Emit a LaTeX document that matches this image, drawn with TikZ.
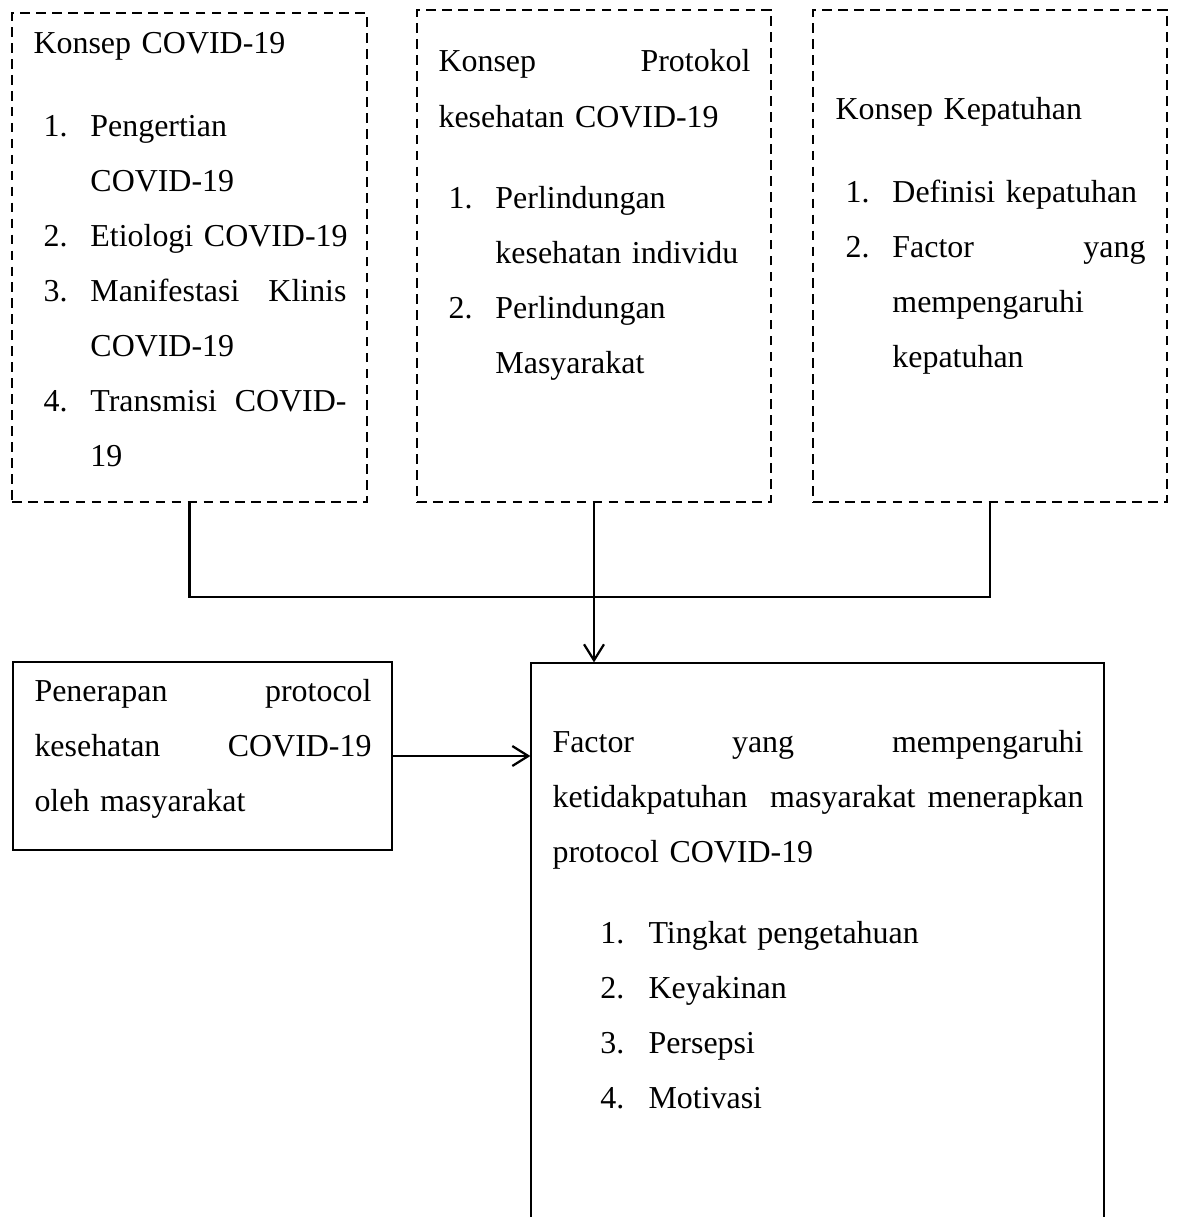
\documentclass[tikz,border=0pt]{standalone}
\usepackage{fontspec}
\setmainfont{Liberation Serif}
\usetikzlibrary{arrows.meta, fit, positioning}
\setlength{\parindent}{0pt}
% list numbers in the boxes
\newcommand{\itm}[1]{\hspace*{3.8pt}\makebox[17.6pt][l]{#1}}
\newcommand{\cnt}{\hspace*{21.4pt}}
\newcommand{\itmw}[1]{\hspace*{18pt}\makebox[18.1pt][l]{#1}}

\begin{document}
\begin{tikzpicture}[x=0.3759pt, y=-0.3759pt,
  dashbox/.style={draw, dash pattern=on 3.6pt off 2.4pt, line width=1pt, inner sep=0pt},
  solidbox/.style={draw, line width=0.45pt, inner sep=0pt},
  txt/.style={inner sep=0pt, anchor=base west, align=left, font=\fontsize{12pt}{20.7pt}\selectfont},
  conn/.style={line width=0.85pt},
  arr/.style={conn, -{Straight Barb[length=6pt,width=7.5pt]}}]
\useasboundingbox (0,0) rectangle (1176,1217);

% top row (dashed)
\node[dashbox, fit={(12,13) (367,502)}] (konsep) {};
\node[dashbox, fit={(417,10) (771,502)}] (protokol) {};
\node[dashbox, fit={(813,10) (1167,502)}] (kepatuhan) {};
% bottom row
\node[solidbox, fit={(13,662) (392,850)}] (penerapan) {};
\node[solidbox, fit={(531,663) (1104,1240)}] (faktor) {};

\node[txt, text width=313*0.3759pt] (konsepTxt) at (33,54) {Konsep COVID-19\\[10.2pt]
\itm{1.}Pengertian\\
\cnt COVID-19\\
\mbox{\itm{2.}Etiologi COVID-19}\\
\itm{3.}Manifestasi \hfill Klinis\\
\cnt COVID-19\\
\itm{4.}Transmisi \hfill COVID-\\
\cnt 19};

\node[txt, text width=312*0.3759pt] (protokolTxt) at (438,72) {Konsep \hfill Protokol\\
kesehatan COVID-19\\[9.8pt]
\itm{1.}Perlindungan\\
\cnt kesehatan individu\\
\itm{2.}Perlindungan\\
\cnt Masyarakat};

\node[txt, text width=310*0.3759pt] (kepatuhanTxt) at (835,120) {Konsep Kepatuhan\\[10.2pt]
\itm{1.}Definisi kepatuhan\\
\itm{2.}Factor \hfill yang\\
\cnt mempengaruhi\\
\cnt kepatuhan};

\node[txt, text width=337*0.3759pt] (penerapanTxt) at (34,701) {Penerapan \hfill protocol\\
kesehatan \hfill COVID-19\\
oleh masyarakat};

\node[txt, text width=531*0.3759pt] (faktorTxt) at (552,752) {Factor \hfill yang \hfill mempengaruhi\\
ketidakpatuhan\hspace*{8.5pt}masyarakat \hfill menerapkan\\
protocol COVID-19\\[9.8pt]
\itmw{1.}Tingkat pengetahuan\\
\itmw{2.}Keyakinan\\
\itmw{3.}Persepsi\\
\itmw{4.}Motivasi};

% connectors
\draw[conn] (konsep.south) -- ++(0,94) -| (kepatuhan.south);
\draw[arr] (protokol.south) -- (protokol.south |- faktor.north);
\draw[arr] (penerapan.east) -- (penerapan.east -| faktor.west);

\end{tikzpicture}
\end{document}
